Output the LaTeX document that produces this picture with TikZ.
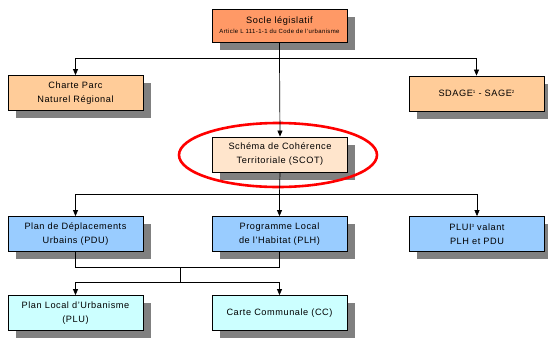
\documentclass[tikz,border=0pt]{standalone}
\usepackage{fontspec}
\setmainfont{Liberation Sans}[LetterSpace=6]
\usetikzlibrary{arrows.meta,shadows}
\definecolor{socle}{HTML}{FF9966}
\definecolor{peach}{HTML}{FFCC99}
\definecolor{cream}{HTML}{FFE5CC}
\definecolor{sky}{HTML}{99CCFF}
\definecolor{ice}{HTML}{CCFFFF}
\newcommand{\supnote}[1]{\raisebox{3pt}{\fontsize{4.5}{5}\selectfont #1}}
\tikzset{
  x=1pt, y=-1pt,
  box/.style={draw=black, line width=0.8pt, minimum width=135pt, minimum height=35pt,
    align=center, inner sep=1pt, font=\fontsize{9.2}{14}\selectfont,
    drop shadow={shadow xshift=7.5pt, shadow yshift=-7.5pt, fill=black!50, opacity=1}},
  link/.style={draw=black, line width=0.7pt},
  arr/.style={link, -{Triangle[length=6pt,width=5pt]}},
}
\begin{document}
\begin{tikzpicture}
\useasboundingbox (0,0) rectangle (548,338);
% top level
\node[box, fill=socle, minimum height=33pt] (socle) at (279.5,25.5)
  {Socle législatif\\[-4pt]{\fontsize{6}{7}\selectfont Article L 111-1-1 du Code de l'urbanisme}};
\node[box, fill=peach] (charte) at (75.5,93) {Charte Parc\\Naturel Régional};
\node[box, fill=peach] (sdage) at (476.5,93.5) {SDAGE\supnote{1} - SAGE\supnote{2}};
\node[box, fill=cream] (scot) at (280,154.5) {Schéma de Cohérence\\Territoriale (SCOT)};
% middle level
\node[box, fill=sky] (pdu) at (75.5,234) {Plan de Déplacements\\Urbains (PDU)};
\node[box, fill=sky] (plh) at (279.5,234) {Programme Local\\de l'Habitat (PLH)};
\node[box, fill=sky] (plui) at (477,234) {PLUI\supnote{3} valant\\PLH et PDU};
% bottom level
\node[box, fill=ice] (plu) at (75.5,313) {Plan Local d'Urbanisme\\(PLU)};
\node[box, fill=ice] (cc) at (279.5,313) {Carte Communale (CC)};
% highlight around the SCOT
\draw[red, line width=2.6pt] (278,155) ellipse (99pt and 32pt);
% branching points
\coordinate (j1) at (279.5,58);
\coordinate (j2) at (279.5,194);
\coordinate (j3) at (180,267.5);
\coordinate (j4) at (180,282.5);
% connectors
\draw[link] (socle.south) -- (j1);
\draw[arr] (j1) -| (charte.north);
\draw[arr] (j1) -| (sdage.north);
\draw[arr] (j1) -- (scot.north);
\draw[link] (scot.south) -- (j2);
\draw[arr] (j2) -| (pdu.north);
\draw[arr] (j2) -- (plh.north);
\draw[arr] (j2) -| (plui.north);
\draw[link] (pdu.south) |- (j3);
\draw[link] (plh.south) |- (j3);
\draw[link] (j3) -- (j4);
\draw[arr] (j4) -| (plu.north);
\draw[arr] (j4) -| (cc.north);
\end{tikzpicture}
\end{document}
